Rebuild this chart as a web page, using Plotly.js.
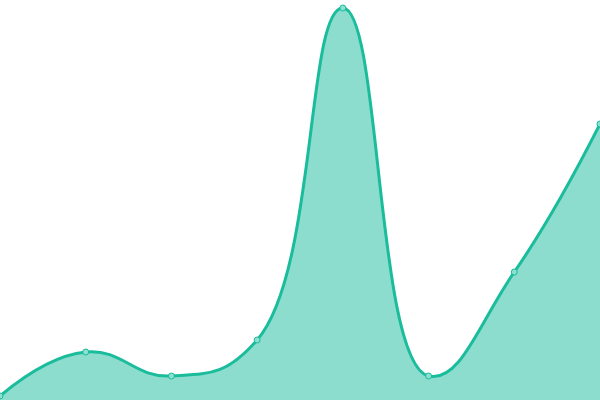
<!DOCTYPE html>
<html>
<head>
<meta charset="utf-8">
<script src="https://cdn.plot.ly/plotly-3.0.1.min.js"></script>
<style>html,body{margin:0;padding:0;background:#fff;}#chart{width:600px;height:400px;}</style>
</head>
<body>
<div id="chart"></div>
<script>
const categories = [0, 1, 2, 3, 4, 5, 6, 7];
const values = [1, 12, 6, 15, 98, 6, 32, 69];

Plotly.newPlot('chart', [{
  x: categories,
  y: values,
  type: 'scatter',
  mode: 'lines+markers',
  fill: 'tozeroy',
  fillcolor: 'rgba(26,188,156,0.5)',
  line: {shape: 'spline', smoothing: 1.3, color: '#1abc9c', width: 3},
  marker: {size: 6, color: '#8be0cf', line: {color: '#1abc9c', width: 1}},
  cliponaxis: false,
  hoverinfo: 'skip'
}], {
  width: 600, height: 400,
  margin: {l: 0, r: 0, t: 0, b: 0},
  paper_bgcolor: '#fff', plot_bgcolor: '#fff',
  showlegend: false,
  xaxis: {range: [0, 7], visible: false, fixedrange: true},
  yaxis: {range: [0, 100], visible: false, fixedrange: true}
}, {displayModeBar: false, staticPlot: true});
</script>
</body>
</html>
